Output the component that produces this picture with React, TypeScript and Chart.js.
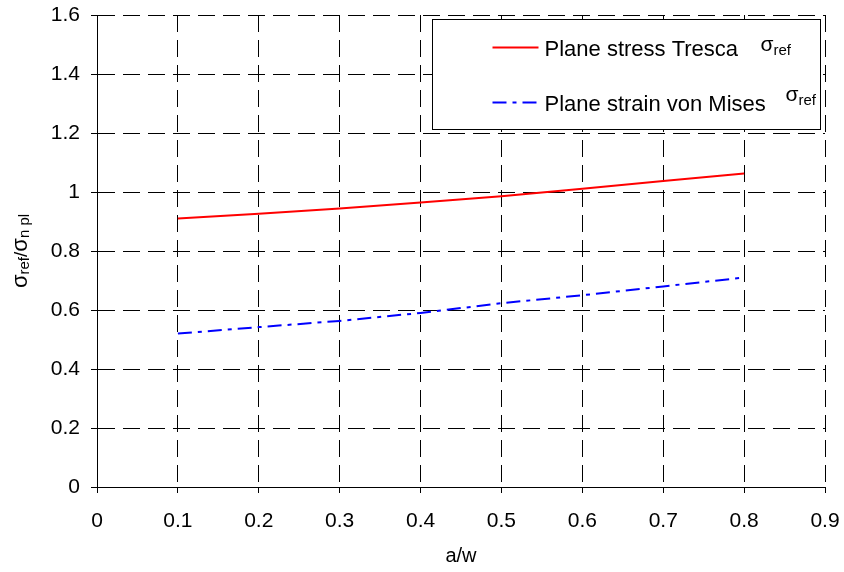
import React, { useEffect, useRef } from 'react';
import { Chart, registerables } from 'chart.js';

Chart.register(...registerables);

// ---- data ----
const aw = [0.1, 0.2, 0.3, 0.4, 0.5, 0.6, 0.7, 0.8];
const planeStressTresca = [0.91, 0.926, 0.944, 0.964, 0.986, 1.011, 1.037, 1.063];
const planeStrainVonMises = [0.52, 0.542, 0.563, 0.59, 0.623, 0.65, 0.68, 0.71];
const seriesLabels = ['Plane stress Tresca', 'Plane strain von Mises'];
const xTicks = [0, 0.1, 0.2, 0.3, 0.4, 0.5, 0.6, 0.7, 0.8, 0.9];
const yTicks = [0, 0.2, 0.4, 0.6, 0.8, 1, 1.2, 1.4, 1.6];
const xTitle = 'a/w';

const FONT = '"Liberation Sans", Arial, sans-serif';

type Seg = { t: string; size: number; dy?: number };

function drawRich(ctx: CanvasRenderingContext2D, segs: Seg[], x: number, y: number, align: 'left' | 'center') {
  let total = 0;
  const widths = segs.map((s) => {
    ctx.font = `${s.size}px ${FONT}`;
    const w = ctx.measureText(s.t).width;
    total += w;
    return w;
  });
  let cx = align === 'center' ? x - total / 2 : x;
  segs.forEach((s, i) => {
    ctx.font = `${s.size}px ${FONT}`;
    ctx.fillText(s.t, cx, y + (s.dy || 0));
    cx += widths[i];
  });
}

const fmt = (v: number) => String(Number(v.toFixed(1)));

const annotations = {
  id: 'annotations',
  afterDraw(chart: any) {
    const { ctx, chartArea } = chart;
    ctx.save();
    ctx.fillStyle = '#000';
    ctx.textBaseline = 'alphabetic';
    ctx.textAlign = 'left';

    // legend box
    const bx = Math.round(chartArea.right - 393) + 0.5;
    const by = Math.round(chartArea.top + 4) + 0.5;
    const bw = 388;
    const bh = 110;
    ctx.fillStyle = '#fff';
    ctx.fillRect(bx, by, bw, bh);
    ctx.strokeStyle = '#000';
    ctx.lineWidth = 1;
    ctx.setLineDash([]);
    ctx.strokeRect(bx, by, bw, bh);

    const items = chart.data.datasets.map((ds: any, i: number) => ({
      label: ds.label,
      color: ds.borderColor,
      dash: ds.borderDash || [],
      y: by + (i === 0 ? 28 : 83),
      sx: i === 0 ? 328 : 353,
      sy: i === 0 ? 0 : -5,
    }));
    items.forEach((it: any) => {
      ctx.save();
      ctx.strokeStyle = it.color;
      ctx.lineWidth = 2;
      ctx.setLineDash(it.dash);
      ctx.beginPath();
      ctx.moveTo(bx + 60, it.y);
      ctx.lineTo(bx + 106, it.y);
      ctx.stroke();
      ctx.restore();
      ctx.fillStyle = '#000';
      ctx.font = `22px ${FONT}`;
      ctx.fillText(it.label, bx + 112, it.y + 8);
      drawRich(
        ctx,
        [
          { t: 'σ', size: 21 },
          { t: 'ref', size: 15, dy: 4 },
        ],
        bx + it.sx,
        it.y + 3 + it.sy,
        'left'
      );
    });

    // y axis title
    ctx.save();
    ctx.fillStyle = '#000';
    ctx.translate(27, (chartArea.top + chartArea.bottom) / 2);
    ctx.rotate(-Math.PI / 2);
    drawRich(
      ctx,
      [
        { t: 'σ', size: 22 },
        { t: 'ref', size: 15, dy: 2 },
        { t: '/', size: 19 },
        { t: 'σ', size: 22 },
        { t: 'n pl', size: 15, dy: 2 },
      ],
      0,
      0,
      'center'
    );
    ctx.restore();

    // x axis title
    ctx.fillStyle = '#000';
    ctx.font = `20px ${FONT}`;
    ctx.textAlign = 'center';
    ctx.fillText(xTitle, (chartArea.left + chartArea.right) / 2, 562);
    ctx.restore();
  },
};

export default function App() {
  const ref = useRef<HTMLCanvasElement | null>(null);

  useEffect(() => {
    if (!ref.current) return;
    const gridCommon = {
      display: true,
      color: '#000',
      lineWidth: 1,
      drawTicks: true,
      tickLength: 6,
      tickColor: '#000',
      tickWidth: 1,
      tickBorderDash: [],
      borderDash: [17, 8],
    };
    const borderCommon = { display: true, color: '#000', width: 1, dash: [17, 8] };
    const chart = new Chart(ref.current, {
      type: 'line',
      data: {
        datasets: [
          {
            label: seriesLabels[0],
            data: aw.map((x, i) => ({ x, y: planeStressTresca[i] })),
            borderColor: '#ff0000',
            borderWidth: 2,
            pointRadius: 0,
            tension: 0,
            fill: false,
          },
          {
            label: seriesLabels[1],
            data: aw.map((x, i) => ({ x, y: planeStrainVonMises[i] })),
            borderColor: '#0000ff',
            borderWidth: 2,
            borderDash: [14, 6, 4, 6],
            pointRadius: 0,
            tension: 0,
            fill: false,
          },
        ],
      },
      options: {
        responsive: false,
        animation: false,
        events: [],
        layout: { padding: { left: 0, top: 15, right: 19, bottom: 0 } },
        plugins: { legend: { display: false }, tooltip: { enabled: false }, title: { display: false } },
        scales: {
          x: {
            type: 'linear',
            min: 0,
            max: 0.9,
            afterBuildTicks: (s: any) => {
              s.ticks = xTicks.map((v) => ({ value: v }));
            },
            afterFit: (s: any) => {
              s.height = 85;
              s.paddingLeft = 0;
              s.paddingRight = 0;
            },
            ticks: {
              color: '#000',
              font: { family: FONT, size: 21 },
              padding: 16,
              maxRotation: 0,
              autoSkip: false,
              callback: (v: any) => fmt(Number(v)),
            },
            grid: gridCommon,
            border: borderCommon,
          },
          y: {
            type: 'linear',
            min: 0,
            max: 1.6,
            afterBuildTicks: (s: any) => {
              s.ticks = yTicks.map((v) => ({ value: v }));
            },
            afterFit: (s: any) => {
              s.width = 97;
              s.paddingTop = 0;
              s.paddingBottom = 0;
            },
            ticks: {
              color: '#000',
              font: { family: FONT, size: 21 },
              padding: 11,
              autoSkip: false,
              callback: (v: any) => fmt(Number(v)),
            },
            grid: gridCommon,
            border: borderCommon,
          },
        },
      },
      plugins: [annotations],
    } as any);
    return () => chart.destroy();
  }, []);

  return (
    <div style={{ position: 'fixed', left: 0, top: 0, width: 844, height: 572, background: '#fff' }}>
      <canvas ref={ref} width={844} height={572} style={{ display: 'block' }} />
    </div>
  );
}
